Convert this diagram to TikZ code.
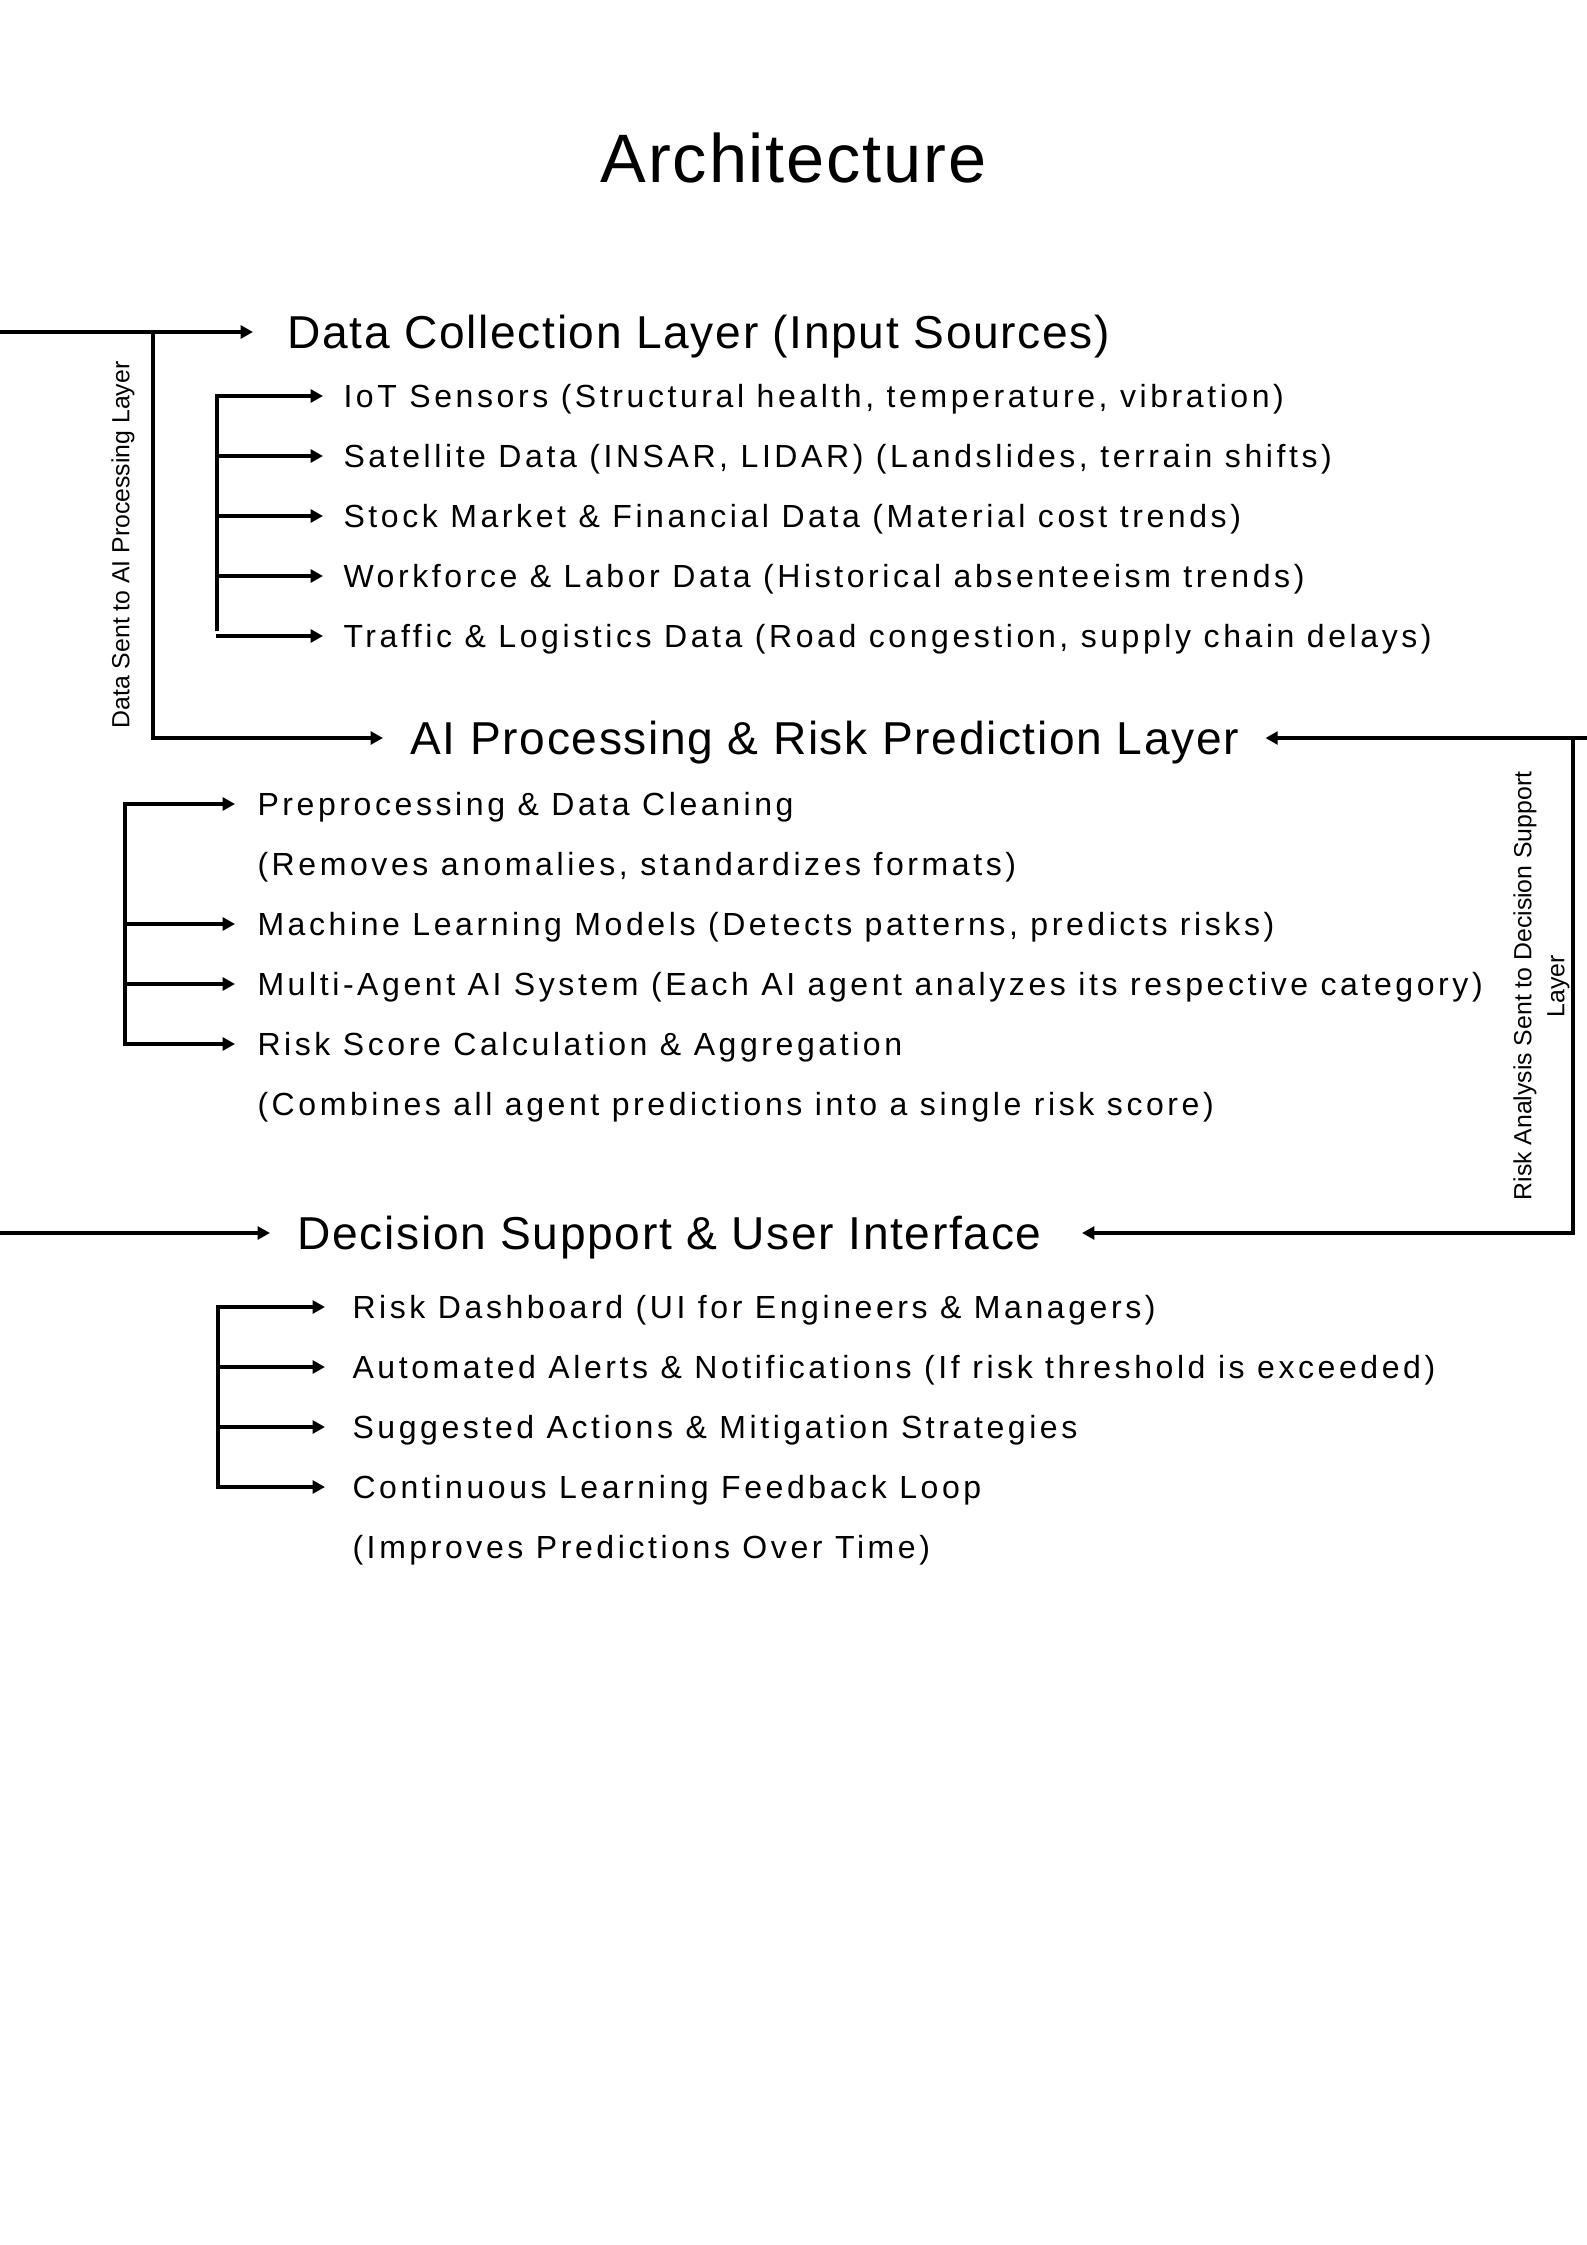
\documentclass[tikz,border=0pt]{standalone}
\usepackage{fontspec}
\setmainfont{Liberation Sans}
\newfontfamily\itemfont{Liberation Sans}[LetterSpace=11.2]
\newfontfamily\headfont{Liberation Sans}[LetterSpace=3.6]
\newfontfamily\titlefont{Liberation Sans}[LetterSpace=2.6]
\newfontfamily\notefont{Liberation Sans}
\usetikzlibrary{arrows.meta,calc}

\tikzset{
  wire/.style={line width=1.35pt, line join=miter, draw=black},
  tip/.tip={Triangle[length=4.6pt,width=4.8pt]},
  arr/.style={wire, -tip},
  arrboth/.style={wire, tip-tip},
  itemtext/.style={anchor=west, inner sep=0pt, text height=8.6pt, text depth=0pt,
    font=\itemfont\fontsize{12pt}{14pt}\selectfont},
  headtext/.style={anchor=west, inner sep=0pt, text height=12.4pt, text depth=0pt,
    font=\headfont\fontsize{17.3pt}{20pt}\selectfont},
  titletext/.style={anchor=base, inner sep=0pt,
    font=\titlefont\fontsize{25.7pt}{30pt}\selectfont},
  sidenote/.style={inner sep=0pt, rotate=90, align=center,
    font=\notefont\fontsize{9.3pt}{12.4pt}\selectfont}
}

\begin{document}
\begin{tikzpicture}[x=0.375pt, y=-0.375pt]
  \fill[white] (0,0) rectangle (1587,2245);
  \useasboundingbox (0,0) rectangle (1587,2245);

  % title
  \node[titletext] (title) at (793.5,182) {Architecture};

  % layer headings
  \node[headtext] (dh) at (287,332) {Data Collection Layer (Input Sources)};
  \node[headtext] (ah) at (410,738) {AI Processing \& Risk Prediction Layer};
  \node[headtext] (sh) at (297,1233) {Decision Support \& User Interface};

  % data collection items
  \node[itemtext] (d1) at (343,396) {IoT Sensors (Structural health, temperature, vibration)};
  \node[itemtext] (d2) at (343,456) {Satellite Data (INSAR, LIDAR) (Landslides, terrain shifts)};
  \node[itemtext] (d3) at (343,516) {Stock Market \& Financial Data (Material cost trends)};
  \node[itemtext] (d4) at (343,576) {Workforce \& Labor Data (Historical absenteeism trends)};
  \node[itemtext] (d5) at (343,636) {Traffic \& Logistics Data (Road congestion, supply chain delays)};

  % AI processing items
  \node[itemtext] (a1) at (257,804) {Preprocessing \& Data Cleaning};
  \node[itemtext] (a2) at (257,864) {(Removes anomalies, standardizes formats)};
  \node[itemtext] (a3) at (257,924) {Machine Learning Models (Detects patterns, predicts risks)};
  \node[itemtext] (a4) at (257,984) {Multi-Agent AI System (Each AI agent analyzes its respective category)};
  \node[itemtext] (a5) at (257,1044) {Risk Score Calculation \& Aggregation};
  \node[itemtext] (a6) at (257,1104) {(Combines all agent predictions into a single risk score)};

  % decision support items
  \node[itemtext] (s1) at (352,1307) {Risk Dashboard (UI for Engineers \& Managers)};
  \node[itemtext] (s2) at (352,1367) {Automated Alerts \& Notifications (If risk threshold is exceeded)};
  \node[itemtext] (s3) at (352,1427) {Suggested Actions \& Mitigation Strategies};
  \node[itemtext] (s4) at (352,1487) {Continuous Learning Feedback Loop};
  \node[itemtext] (s5) at (352,1547) {(Improves Predictions Over Time)};

  % side notes on the flow lines
  \node[sidenote] (ln) at (123,545) {Data Sent to AI Processing Layer};
  \node[sidenote] (rn) at (1541.5,986) {Risk Analysis Sent to Decision Support\\Layer};

  % spine and edge coordinates
  \coordinate (inA) at (0,332);
  \coordinate (inB) at (0,1233);
  \coordinate (flowL) at (153,332);
  \coordinate (dsp) at (217,0);
  \coordinate (asp) at (125,0);
  \coordinate (ssp) at (218,0);
  \coordinate (edgeR) at (1587,738);
  \coordinate (flowR) at (1573,738);

  % incoming line into the data collection layer, branch down to AI layer
  \draw[arr] (inA) -- ($(dh.west)+(-34,0)$);
  \draw[arr] (flowL) |- ($(ah.west)+(-27,0)$);

  % data collection bracket
  \draw[arr] ($(dsp |- d5.west)+(0,-5)$) |- ($(d1.west)+(-20,0)$);
  \draw[arr] (dsp |- d2.west) -- ($(d2.west)+(-20,0)$);
  \draw[arr] (dsp |- d3.west) -- ($(d3.west)+(-20,0)$);
  \draw[arr] (dsp |- d4.west) -- ($(d4.west)+(-20,0)$);
  \draw[arr] ($(dsp |- d5.west)+(-1.5,0)$) -- ($(d5.west)+(-20,0)$);

  % AI processing bracket
  \draw[arrboth] ($(a1.west)+(-22,0)$) -| (asp |- a5.west) -- ($(a5.west)+(-22,0)$);
  \draw[arr] (asp |- a3.west) -- ($(a3.west)+(-22,0)$);
  \draw[arr] (asp |- a4.west) -- ($(a4.west)+(-22,0)$);

  % risk analysis loop on the right
  \draw[arr] (edgeR) -- ($(ah.east)+(26,0)$);
  \draw[arr] (flowR) |- ($(sh.east)+(40,0)$);

  % incoming line into the decision support layer
  \draw[arr] (inB) -- ($(sh.west)+(-27,0)$);

  % decision support bracket
  \draw[arrboth] ($(s1.west)+(-27,0)$) -| (ssp |- s4.west) -- ($(s4.west)+(-27,0)$);
  \draw[arr] (ssp |- s2.west) -- ($(s2.west)+(-27,0)$);
  \draw[arr] (ssp |- s3.west) -- ($(s3.west)+(-27,0)$);
\end{tikzpicture}
\end{document}
